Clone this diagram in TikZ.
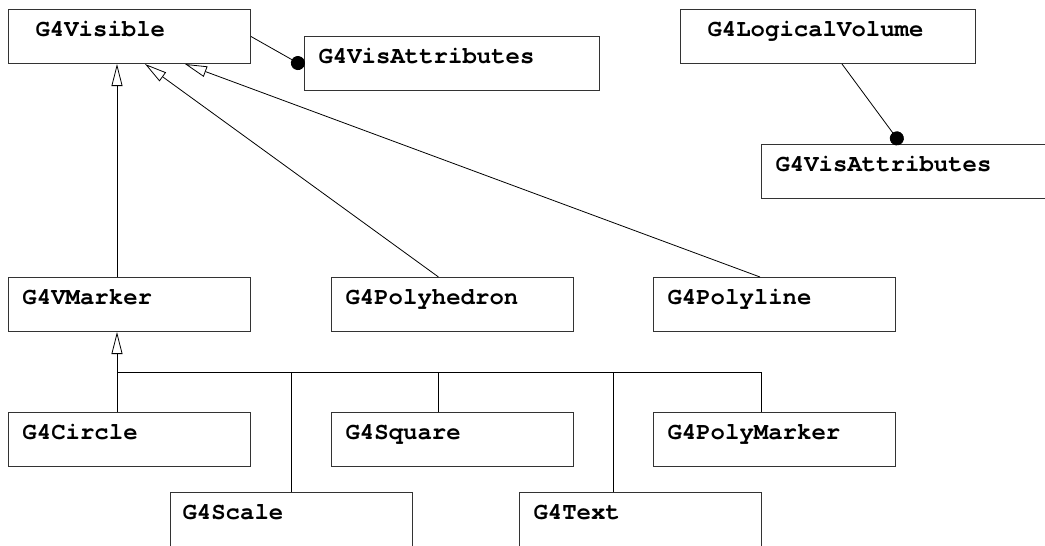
\documentclass[tikz,border=0pt]{standalone}
\usepackage{fontspec}
\setmonofont{TeX Gyre Cursor}
\usetikzlibrary{arrows.meta}
\usetikzlibrary{calc}

\tikzset{
  classbox/.style={draw=black!80, line width=1pt, anchor=north west,
    inner xsep=14pt, inner ysep=0pt, text width=214pt, align=left,
    text height=27pt, text depth=27pt,
    font=\fontsize{24}{28}\selectfont\ttfamily\bfseries},
  widebox/.style={classbox, text width=267pt},
  inherits/.style={-{Triangle[open, length=22pt, width=11pt]}, line width=0.8pt},
  aggregate/.style={-{Circle[length=14pt]}, line width=0.8pt}
}

\begin{document}
\begin{tikzpicture}[x=1pt, y=-1pt]
  \useasboundingbox (0,0) rectangle (1045,546);

  \node[classbox, inner xsep=27pt, text width=188pt] (visible) at (8,9) {G4Visible};
  \node[widebox] (visattrA) at (304,36) {G4VisAttributes};
  \node[widebox, inner xsep=27pt, text width=241pt] (logvol) at (680,9) {G4LogicalVolume};
  \node[widebox] (visattrB) at (761,144) {G4VisAttributes};

  \node[classbox] (vmarker) at (8,277) {G4VMarker};
  \node[classbox] (polyhedron) at (331,277) {G4Polyhedron};
  \node[classbox] (polyline) at (653,277) {G4Polyline};

  \node[classbox] (circ) at (8,412) {G4Circle};
  \node[classbox] (square) at (331,412) {G4Square};
  \node[classbox] (polymarker) at (653,412) {G4PolyMarker};
  \node[classbox, inner xsep=12pt, text width=218pt] (scale) at (170,492) {G4Scale};
  \node[classbox] (txt) at (519,492) {G4Text};

  \draw[aggregate] (visible.east) -- ($(visattrA.west)+(0,3)$);
  \draw[aggregate] ($(logvol.south)+(14,0)$) -- ($(visattrB.north)+(-8,0)$);

  \draw[inherits] ($(vmarker.north west)+(109,0)$) -- ($(visible.south west)+(109,0)$);
  \draw[inherits] ($(polyhedron.north)+(-14,0)$) -- ($(visible.south west)+(137,0)$);
  \draw[inherits] ($(polyline.north west)+(107,0)$) -- ($(visible.south west)+(177,0)$);

  \coordinate (bus) at (117,372);
  \draw[inherits] (bus) -- (bus |- vmarker.south);
  \foreach \cls/\dx in {circ/109, scale/121, square/107, txt/94, polymarker/108}
    \draw[line width=0.8pt] (bus) -| ($(\cls.north west)+(\dx,0)$);
\end{tikzpicture}
\end{document}
